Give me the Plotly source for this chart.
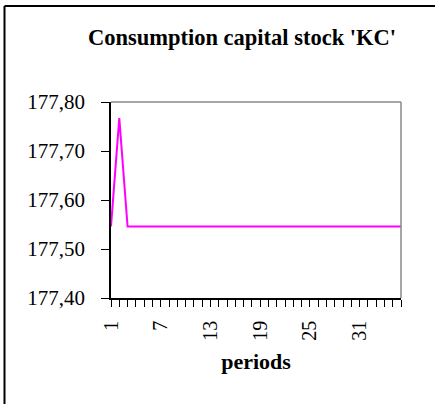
import plotly.graph_objects as go

periods = list(range(1, 37))
kc_values = [177.546, 177.767, 177.546, 177.546, 177.546, 177.546, 177.546, 177.546,
             177.546, 177.546, 177.546, 177.546, 177.546, 177.546, 177.546, 177.546,
             177.546, 177.546, 177.546, 177.546, 177.546, 177.546, 177.546, 177.546,
             177.546, 177.546, 177.546, 177.546, 177.546, 177.546, 177.546, 177.546,
             177.546, 177.546, 177.546, 177.546]
x_tick_vals = [1, 7, 13, 19, 25, 31]
y_tick_vals = [177.40, 177.50, 177.60, 177.70, 177.80]
y_tick_text = ["177,40", "177,50", "177,60", "177,70", "177,80"]

FONT = "Liberation Serif"

# plot area: x 111..401, y 102..298 (px)
PW, PH = 290, 196
L, T = 111, 102

fig = go.Figure()
fig.add_trace(go.Scatter(x=periods, y=kc_values, mode="lines",
                         line=dict(color="#FF00FF", width=2), showlegend=False,
                         cliponaxis=False))

fig.update_layout(
    width=435, height=404,
    margin=dict(l=L, r=435 - L - PW, t=T, b=404 - T - PH, autoexpand=False),
    paper_bgcolor="white", plot_bgcolor="white",
    font=dict(family=FONT, color="black"),
    title=dict(text="<b>Consumption capital stock 'KC'</b>",
               font=dict(family=FONT, size=22.5, color="black"),
               xref="container", x=242 / 435, xanchor="center",
               yref="container", y=1 - 37 / 404, yanchor="middle"),
    xaxis=dict(range=[1, 36], tickvals=x_tick_vals, ticktext=[str(v) for v in x_tick_vals],
               tickangle=-90, ticks="outside", ticklen=7, tickwidth=1, tickcolor="black",
               minor=dict(dtick=1, tick0=1, ticks="outside", ticklen=7, tickwidth=1,
                          tickcolor="black", showgrid=False),
               showline=True, linecolor="black", linewidth=1.5, showgrid=False,
               zeroline=False, tickfont=dict(family=FONT, size=20), ticklabelstandoff=6,
               title=dict(text="<b>periods</b>", font=dict(family=FONT, size=22), standoff=14)),
    yaxis=dict(range=[177.40, 177.80], tickvals=y_tick_vals, ticktext=y_tick_text,
               ticks="outside", ticklen=8, tickwidth=1, tickcolor="black",
               showline=True, linecolor="black", linewidth=1.5, showgrid=False,
               zeroline=False, tickfont=dict(family=FONT, size=21), ticklabelstandoff=12),
    shapes=[
        dict(type="line", xref="paper", yref="paper", x0=0, x1=1, y0=1, y1=1,
             line=dict(color="#888888", width=1.5)),
        dict(type="line", xref="paper", yref="paper", x0=1, x1=1, y0=0, y1=1,
             line=dict(color="#888888", width=1.5)),
        # outer chart border (left and top edges visible)
        dict(type="line", xref="paper", yref="paper",
             x0=(4.5 - L) / PW, x1=(4.5 - L) / PW, y0=-1, y1=(T + PH - 6) / PH,
             line=dict(color="black", width=2)),
        dict(type="line", xref="paper", yref="paper",
             x0=(4.5 - L) / PW, x1=2, y0=(T + PH - 6) / PH, y1=(T + PH - 6) / PH,
             line=dict(color="black", width=2)),
    ],
)

fig.write_html("out.html", config={"displayModeBar": False},
               post_script="document.body.style.margin='0';")
